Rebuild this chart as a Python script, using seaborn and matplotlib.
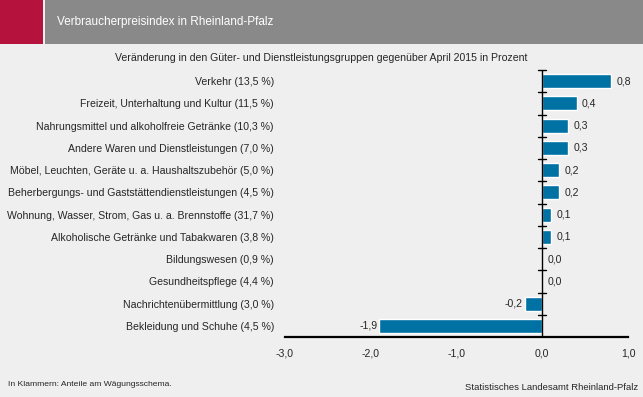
import matplotlib
matplotlib.use("Agg")
import matplotlib.pyplot as plt
import seaborn as sns
import pandas as pd
from matplotlib.patches import Rectangle

categories = [
    "Verkehr (13,5 %)",
    "Freizeit, Unterhaltung und Kultur (11,5 %)",
    "Nahrungsmittel und alkoholfreie Getränke (10,3 %)",
    "Andere Waren und Dienstleistungen (7,0 %)",
    "Möbel, Leuchten, Geräte u. a. Haushaltszubehör (5,0 %)",
    "Beherbergungs- und Gaststättendienstleistungen (4,5 %)",
    "Wohnung, Wasser, Strom, Gas u. a. Brennstoffe (31,7 %)",
    "Alkoholische Getränke und Tabakwaren (3,8 %)",
    "Bildungswesen (0,9 %)",
    "Gesundheitspflege (4,4 %)",
    "Nachrichtenübermittlung (3,0 %)",
    "Bekleidung und Schuhe (4,5 %)",
]
values = [0.8, 0.4, 0.3, 0.3, 0.2, 0.2, 0.1, 0.1, 0.0, 0.0, -0.2, -1.9]
xticks = [-3.0, -2.0, -1.0, 0.0, 1.0]

title = "Verbraucherpreisindex in Rheinland-Pfalz"
subtitle = "Veränderung in den Güter- und Dienstleistungsgruppen gegenüber April 2015 in Prozent"
note = "In Klammern: Anteile am Wägungsschema."
source = "Statistisches Landesamt Rheinland-Pfalz"

sns.set_style("white")
plt.rcParams["font.family"] = ["Liberation Sans", "DejaVu Sans"]

bg = "#EEEFEE"
bar_color = "#0071A3"
fs = 7.6

fig = plt.figure(figsize=(6.43, 3.97), dpi=100, facecolor=bg)
W, H = 643, 397

# header band
fig.patches.append(Rectangle((0, 1 - 44 / H), 43 / W, 44 / H, transform=fig.transFigure,
                             facecolor="#B5123E", edgecolor="none"))
fig.patches.append(Rectangle((45 / W, 1 - 44 / H), 1 - 45 / W, 44 / H, transform=fig.transFigure,
                             facecolor="#898989", edgecolor="none"))
fig.text(57 / W, 1 - 22 / H, title, color="white", fontsize=8.5, va="center", ha="left")

ax = fig.add_axes([285 / W, 1 - 337 / H, (628 - 285) / W, (337 - 70) / H])
ax.set_facecolor(bg)

df = pd.DataFrame({"cat": categories, "val": values})
sns.barplot(data=df, y="cat", x="val", orient="h", color=bar_color, width=0.63,
            saturation=1, ax=ax, zorder=2)

ax.set_xlim(-3.0, 1.0)
ax.set_ylim(len(categories) - 0.5, -0.5)
ax.set_xlabel("")
ax.set_ylabel("")

for s in ["top", "right", "left"]:
    ax.spines[s].set_visible(False)
ax.spines["bottom"].set_linewidth(1.6)
ax.spines["bottom"].set_color("black")

ax.set_xticks(xticks)
ax.set_xticklabels([f"{t:.1f}".replace(".", ",") for t in xticks], fontsize=fs)
ax.tick_params(axis="x", direction="out", length=4, width=1, color="black", pad=4)

ax.set_yticks(range(len(categories)))
ax.set_yticklabels(categories, fontsize=fs)
ax.tick_params(axis="y", length=0, pad=8)

# zero axis line with category-boundary ticks
ax.axvline(0, color="black", linewidth=1, zorder=3)
for b in range(0, len(categories)):
    ax.plot([-0.047, 0.047], [b - 0.5, b - 0.5], color="black", linewidth=1, zorder=3,
            clip_on=False)

for i, v in enumerate(values):
    lab = f"{v:.1f}".replace(".", ",")
    if v < 0:
        ax.annotate(lab, (v, i), xytext=(-1.5, 0), textcoords="offset points",
                    ha="right", va="center", fontsize=fs)
    else:
        ax.annotate(lab, (v, i), xytext=(4, 0), textcoords="offset points",
                    ha="left", va="center", fontsize=fs)

fig.text(321 / W, 1 - 58 / H, subtitle, fontsize=fs, ha="center", va="center")
fig.text(8 / W, 1 - 385 / H, note, fontsize=6.1, ha="left", va="center")
fig.text(638 / W, 1 - 388 / H, source, fontsize=6.8, ha="right", va="center")

fig.savefig("out.png", dpi=100, facecolor=bg)
